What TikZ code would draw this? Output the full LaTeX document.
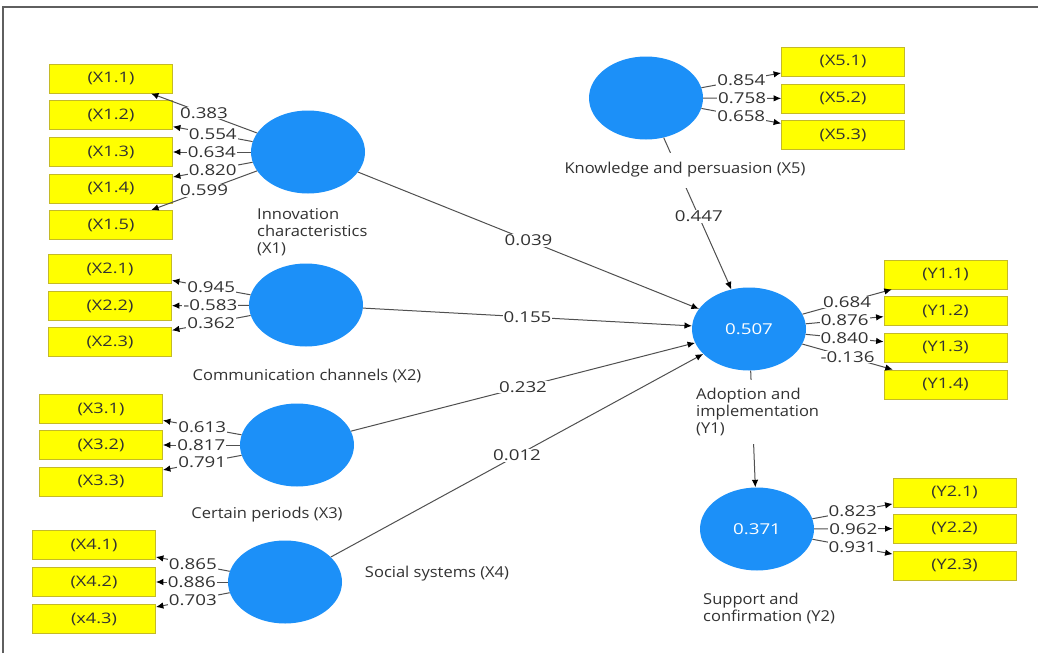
\documentclass[tikz,border=0pt]{standalone}
\usepackage{fontspec}
\setmainfont{Open Sans}[FakeStretch=1.25]
\newfontfamily\lblfont{Open Sans}[FakeStretch=1.1]
\usetikzlibrary{shapes.geometric,arrows.meta}
\definecolor{lvblue}{RGB}{28,144,248}
\definecolor{boxyel}{RGB}{255,255,0}
\definecolor{boxedge}{RGB}{196,186,40}
\definecolor{txt}{RGB}{50,50,50}
\definecolor{edgec}{RGB}{80,80,80}
\definecolor{framec}{RGB}{95,95,95}
\begin{document}
\begin{tikzpicture}[x=1pt,y=-1pt,
  lv/.style={ellipse,fill=lvblue,minimum width=114pt,minimum height=83pt,inner sep=0pt,text=white,font=\fontsize{15}{17}\selectfont},
  ind/.style={rectangle,fill=boxyel,draw=boxedge,line width=0.8pt,minimum width=123pt,minimum height=29pt,inner sep=0pt,text=txt,font=\fontsize{14.5}{16}\selectfont},
  ld/.style={draw=edgec,line width=1pt,-{Latex[length=7.5pt,width=6.5pt,color=black]}},
  lbl/.style={fill=white,inner xsep=1pt,inner ysep=0.5pt,text=txt,font=\fontsize{15}{17}\selectfont},
  lvlbl/.style={fill=white,inner xsep=0pt,inner ysep=3pt,text=txt,font=\lblfont\fontsize{15}{17}\selectfont},
]
\useasboundingbox (0,0) rectangle (1038,653);
\fill[white] (0,0) rectangle (1038,653);
\draw[framec,line width=1.5pt] (3,653) -- (3,7) -- (1038,7);

% latent variables
\node[lv] (X1) at (308,152) {};
\node[lv] (X2) at (306,305) {};
\node[lv] (X3) at (297,445) {};
\node[lv] (X4) at (285,582) {};
\node[lv] (X5) at (646,98) {};
\node[lv] (Y1) at (749,329) {0.507};
\node[lv] (Y2) at (757,529) {0.371};

% indicators
\node[ind] (x11) at (111,78.5) {(X1.1)};
\node[ind] (x12) at (111,115) {(X1.2)};
\node[ind] (x13) at (111,152) {(X1.3)};
\node[ind] (x14) at (111,188.5) {(X1.4)};
\node[ind] (x15) at (111,225) {(X1.5)};
\node[ind] (x21) at (110,269) {(X2.1)};
\node[ind] (x22) at (110,306) {(X2.2)};
\node[ind] (x23) at (110,342) {(X2.3)};
\node[ind] (x31) at (101,409) {(X3.1)};
\node[ind] (x32) at (101,445) {(X3.2)};
\node[ind] (x33) at (101,481.5) {(X3.3)};
\node[ind] (x41) at (94,545) {(X4.1)};
\node[ind] (x42) at (94,582) {(X4.2)};
\node[ind] (x43) at (94,619) {(x4.3)};
\node[ind] (x51) at (843,61.5) {(X5.1)};
\node[ind] (x52) at (843,98.5) {(X5.2)};
\node[ind] (x53) at (843,135) {(X5.3)};
\node[ind] (y11) at (945.5,274.5) {(Y1.1)};
\node[ind] (y12) at (945.5,311) {(Y1.2)};
\node[ind] (y13) at (945.5,347.5) {(Y1.3)};
\node[ind] (y14) at (945.5,384.5) {(Y1.4)};
\node[ind] (y21) at (954.5,492.5) {(Y2.1)};
\node[ind] (y22) at (954.5,528.5) {(Y2.2)};
\node[ind] (y23) at (954.5,565.5) {(Y2.3)};

% outer loadings
\draw[ld] (X1) -- node[lbl]{0.383} (x11);
\draw[ld] (X1) -- node[lbl]{0.554} (x12);
\draw[ld] (X1) -- node[lbl]{0.634} (x13);
\draw[ld] (X1) -- node[lbl]{0.820} (x14);
\draw[ld] (X1) -- node[lbl]{0.599} (x15);
\draw[ld] (X2) -- node[lbl]{0.945} (x21);
\draw[ld] (X2) -- node[lbl]{-0.583} (x22);
\draw[ld] (X2) -- node[lbl]{0.362} (x23);
\draw[ld] (X3) -- node[lbl]{0.613} (x31);
\draw[ld] (X3) -- node[lbl]{0.817} (x32);
\draw[ld] (X3) -- node[lbl]{0.791} (x33);
\draw[ld] (X4) -- node[lbl]{0.865} (x41);
\draw[ld] (X4) -- node[lbl]{0.886} (x42);
\draw[ld] (X4) -- node[lbl]{0.703} (x43);
\draw[ld] (X5) -- node[lbl]{0.854} (x51);
\draw[ld] (X5) -- node[lbl]{0.758} (x52);
\draw[ld] (X5) -- node[lbl]{0.658} (x53);
\draw[ld] (Y1) -- node[lbl]{0.684} (y11);
\draw[ld] (Y1) -- node[lbl]{0.876} (y12);
\draw[ld] (Y1) -- node[lbl]{0.840} (y13);
\draw[ld] (Y1) -- node[lbl]{-0.136} (y14);
\draw[ld] (Y2) -- node[lbl]{0.823} (y21);
\draw[ld] (Y2) -- node[lbl]{0.962} (y22);
\draw[ld] (Y2) -- node[lbl]{0.931} (y23);

% structural paths
\draw[ld] (X1) -- node[lbl]{0.039} (Y1);
\draw[ld] (X2) -- node[lbl]{0.155} (Y1);
\draw[ld] (X3) -- node[lbl]{0.232} (Y1);
\draw[ld] (X4) -- node[lbl]{0.012} (Y1);
\draw[ld] (X5) -- node[lbl,pos=0.52]{0.447} (Y1);
\draw[ld] (Y1) -- (Y2);

% latent labels
\node[lvlbl,anchor=west,align=left] (lX1) at (257,232) {Innovation\\characteristics\\(X1)};
\node[lvlbl] (lX2) at (307,376) {Communication channels (X2)};
\node[lvlbl] (lX3) at (267,515) {Certain periods (X3)};
\node[lvlbl] (lX4) at (437,574) {Social systems (X4)};
\node[lvlbl,inner ysep=10pt] (lX5) at (685,170) {Knowledge and persuasion (X5)};
\node[lvlbl,anchor=west,align=left,inner ysep=8pt] (lY1) at (696,412) {Adoption and\\implementation\\(Y1)};
\node[lvlbl,anchor=west,align=left] (lY2) at (703,608) {Support and\\confirmation (Y2)};
\end{tikzpicture}
\end{document}
